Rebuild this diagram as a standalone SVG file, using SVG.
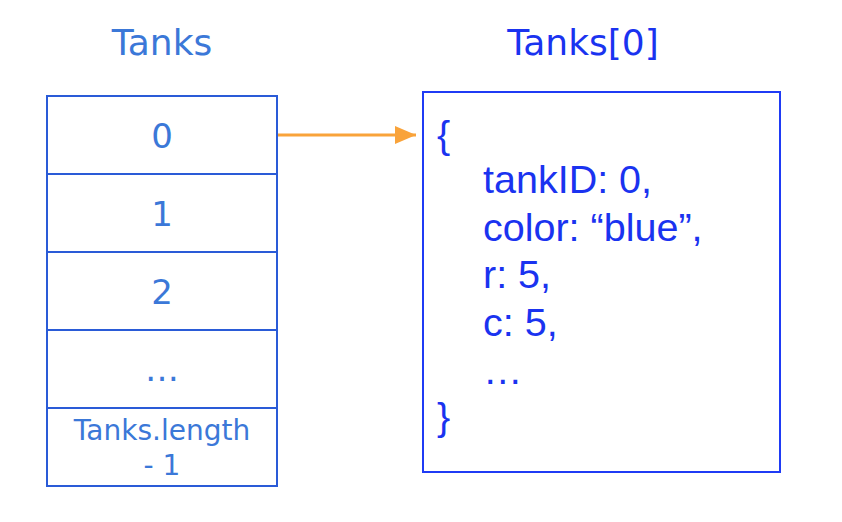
<svg xmlns="http://www.w3.org/2000/svg" width="842" height="522" viewBox="0 0 842 522">
<style>
.cell{fill:#fff;stroke:#2a5bd7;stroke-width:2}
.lt{font-family:"DejaVu Sans",Verdana,sans-serif;fill:#3b78d8;text-anchor:middle}
.rt{font-family:"Liberation Sans",Arial,sans-serif;fill:#1a33f0;font-size:39.5px}
.obj{fill:#fff;stroke:#1f3bf5;stroke-width:2}
</style>
<defs>
<marker id="ah" markerWidth="8" markerHeight="6" refX="7" refY="3" orient="auto" markerUnits="strokeWidth">
<path d="M0,0 L7,3 L0,6 Z" fill="#f9a33a"/>
</marker>
</defs>
<text class="lt" x="162" y="55" font-size="36">Tanks</text>
<text class="lt" x="583" y="55" font-size="36" style="fill:#1a33f0">Tanks[0]</text>
<g id="cell0"><rect class="cell" x="47" y="96" width="230" height="78"/><text class="lt" x="162" y="148" font-size="34">0</text></g>
<g id="cell1"><rect class="cell" x="47" y="174" width="230" height="78"/><text class="lt" x="162" y="226" font-size="34">1</text></g>
<g id="cell2"><rect class="cell" x="47" y="252" width="230" height="78"/><text class="lt" x="162" y="304" font-size="34">2</text></g>
<g id="cell3"><rect class="cell" x="47" y="330" width="230" height="78"/><text class="lt" x="162" y="381" font-size="34">…</text></g>
<g id="cell4"><rect class="cell" x="47" y="408" width="230" height="78"/><text class="lt" x="162" y="440" font-size="28">Tanks.length</text><text class="lt" x="162" y="475" font-size="28">- 1</text></g>
<g id="tank0">
<rect class="obj" x="423" y="92" width="357" height="380"/>
<text class="rt" x="437" y="148">{</text>
<text class="rt" x="483" y="193">tankID: 0,</text>
<text class="rt" x="483" y="241">color: “blue”,</text>
<text class="rt" x="483" y="288">r: 5,</text>
<text class="rt" x="483" y="336">c: 5,</text>
<text class="rt" x="483" y="384">…</text>
<text class="rt" x="437" y="430">}</text>
</g>
<g id="connectors">
<line x1="278" y1="135" x2="416" y2="135" stroke="#f9a33a" stroke-width="3" marker-end="url(#ah)"/>
</g>
</svg>
